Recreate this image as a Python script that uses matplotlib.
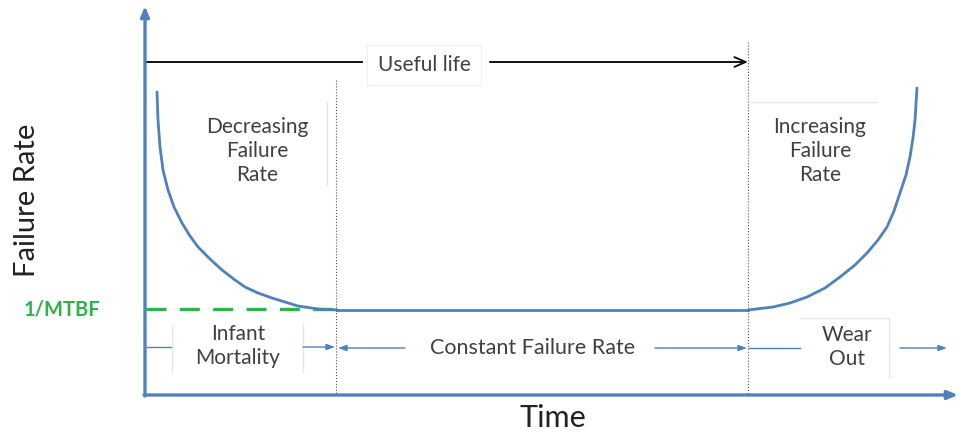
import matplotlib.pyplot as plt

plt.rcParams['font.family'] = ['Lato', 'DejaVu Sans']

# bathtub curve (time, failure rate in picture units)
early_t = [157, 158, 160, 163, 168, 174, 182, 190, 198, 210, 222, 235, 245, 258, 272, 285, 298, 318, 337]
early_r = [92, 120, 147, 170, 190, 207, 223, 236, 247, 259, 270, 280, 287, 293, 298, 302, 306, 309, 310]
flat_t = [337, 748]
flat_r = [310, 310]
late_t = [748, 773, 790, 807, 825, 840, 855, 867, 878, 887, 894, 900, 906, 910, 913, 915, 917]
late_r = [310, 307, 303, 297, 288, 277, 265, 253, 240, 227, 211, 193, 175, 157, 138, 120, 88]

mtbf_level = 309
bound_infant = 336
bound_wear = 748

blue = '#4f81bd'
grey = '#404040'
faint = '#e6e6e6'

fig = plt.figure(figsize=(9.6, 4.37), dpi=100)
ax = fig.add_axes([0, 0, 1, 1])
ax.set_xlim(0, 960)
ax.set_ylim(437, 0)
ax.axis('off')

# axes arrows
ax.annotate('', xy=(145, 6), xytext=(145, 396),
            arrowprops=dict(arrowstyle='-|>,head_length=0.6,head_width=0.25', color=blue, lw=2.4, shrinkA=0, shrinkB=0))
ax.annotate('', xy=(958, 395), xytext=(144, 395),
            arrowprops=dict(arrowstyle='-|>,head_length=0.6,head_width=0.25', color=blue, lw=2.4, shrinkA=0, shrinkB=0))

# curve
ax.plot(early_t, early_r, color=blue, lw=2.0, solid_capstyle='round')
ax.plot(flat_t, flat_r, color=blue, lw=2.0)
ax.plot(late_t, late_r, color=blue, lw=2.0, solid_capstyle='round')

# 1/MTBF dashed line
ax.plot([146, bound_infant], [mtbf_level, mtbf_level], color='#2fb24a', lw=2.4, dashes=(6, 4), zorder=1)
ax.text(62, 309, '1/MTBF', color='#2fb24a', fontsize=14.5, fontweight='bold', ha='center', va='center')

# dotted boundaries
ax.plot([bound_infant, bound_infant], [80, 395], color='#555555', lw=0.8, ls=':')
ax.plot([bound_wear, bound_wear], [42, 395], color='#555555', lw=0.8, ls=':')

# useful life arrow
ax.plot([145, 362], [62, 62], color='#111111', lw=1.4)
ax.annotate('', xy=(bound_wear, 62), xytext=(490, 62),
            arrowprops=dict(arrowstyle='->,head_length=0.8,head_width=0.35', color='#111111', lw=1.4, shrinkA=0, shrinkB=0))
box = dict(boxstyle='square,pad=0.5', fc='white', ec='#f0f0f0', lw=0.8)
ax.text(424, 65, 'Useful life', color=grey, fontsize=15, ha='center', va='center', bbox=box)

# region labels
ax.text(257, 151, 'Decreasing\nFailure\nRate', color=grey, fontsize=15, ha='center', va='center',
        linespacing=1.22)
ax.plot([327, 327], [102, 185], color=faint, lw=1)
ax.text(820, 151, 'Increasing\nFailure\nRate', color=grey, fontsize=15, ha='center', va='center',
        linespacing=1.22)
ax.plot([752, 877], [102, 102], color=faint, lw=1)

# bottom phase arrows
arr = dict(arrowstyle='-|>,head_length=0.5,head_width=0.18', color=blue, lw=1.0, shrinkA=0, shrinkB=0)
ax.plot([147, 172], [347, 347], color=blue, lw=1.0)
ax.annotate('', xy=(bound_infant - 1, 347), xytext=(303, 347), arrowprops=arr)
ax.text(238, 346, 'Infant\nMortality', color=grey, fontsize=15, ha='center', va='center', linespacing=1.2)
ax.plot([172, 172], [325, 372], color=faint, lw=1)
ax.plot([303, 303], [325, 372], color=faint, lw=1)

ax.annotate('', xy=(bound_infant + 2, 348), xytext=(405, 348), arrowprops=arr)
ax.annotate('', xy=(bound_wear - 1, 348), xytext=(655, 348), arrowprops=arr)
ax.text(533, 348, 'Constant Failure Rate', color=grey, fontsize=15.5, ha='center', va='center')

ax.plot([bound_wear + 1, 800], [348, 348], color=blue, lw=1.0)
ax.annotate('', xy=(947, 348), xytext=(900, 348), arrowprops=arr)
ax.text(847, 347, 'Wear\nOut', color=grey, fontsize=15, ha='center', va='center', linespacing=1.2)
ax.plot([801, 889], [318, 318], color=faint, lw=1)
ax.plot([889, 889], [318, 378], color=faint, lw=1)

# axis titles
ax.text(27, 200, 'Failure Rate', color='#222222', fontsize=21, rotation=90, ha='center', va='center')
ax.text(553, 418, 'Time', color='#222222', fontsize=22, ha='center', va='center')

plt.savefig('out.png', dpi=100)
